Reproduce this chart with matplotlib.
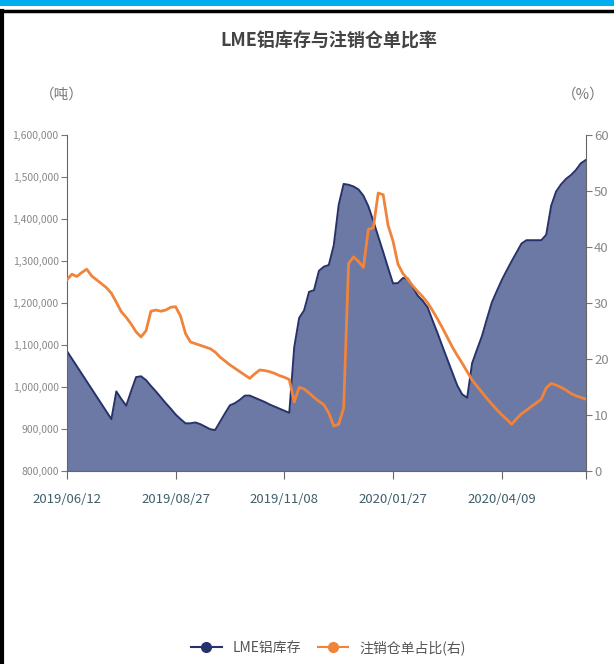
import matplotlib
matplotlib.use("Agg")
import matplotlib.pyplot as plt
from matplotlib.lines import Line2D
import numpy as np

plt.rcParams['font.family'] = ['Noto Sans CJK SC', 'DejaVu Sans']

# LME铝库存 (吨), sampled evenly along the date axis
stock = [1085, 1067, 1049, 1031, 1013, 995, 977, 959, 941, 923,
         989, 971, 955, 990, 1023, 1025, 1016, 1002, 989, 975,
         961, 948, 934, 923, 913, 913, 915, 911, 905, 899,
         897, 917, 937, 956, 961, 969, 979, 979, 974, 969,
         964, 958, 953, 948, 943, 938, 1094, 1164, 1182, 1226,
         1230, 1276, 1286, 1290, 1337, 1433, 1483, 1481, 1477, 1470,
         1455, 1430, 1395, 1358, 1321, 1283, 1246, 1247, 1259, 1258,
         1237, 1217, 1205, 1189, 1158, 1128, 1096, 1065, 1034, 1003,
         982, 974, 1056, 1089, 1121, 1162, 1201, 1228, 1254, 1277,
         1299, 1320, 1341, 1349, 1349, 1349, 1349, 1362, 1431, 1465,
         1482, 1495, 1504, 1516, 1532, 1540]
stock = [v * 1000 for v in stock]

# 注销仓单占比 (%)
ratio = [34.1, 35.1, 34.7, 35.4, 36.0, 34.8, 34.1, 33.4, 32.7, 31.7,
         30.1, 28.4, 27.4, 26.2, 24.8, 23.9, 25.0, 28.5, 28.7, 28.5,
         28.7, 29.2, 29.3, 27.6, 24.5, 23.0, 22.7, 22.4, 22.1, 21.8,
         21.2, 20.3, 19.6, 18.9, 18.3, 17.7, 17.1, 16.5, 17.3, 18.0,
         17.9, 17.7, 17.4, 17.0, 16.7, 16.3, 12.3, 14.9, 14.6, 13.9,
         13.1, 12.4, 11.8, 10.3, 8.0, 8.3, 11.2, 37.0, 38.2, 37.4,
         36.3, 43.1, 43.4, 49.6, 49.3, 43.8, 41.0, 36.9, 35.2, 34.2,
         33.0, 32.0, 31.1, 30.0, 28.6, 27.1, 25.5, 23.8, 22.1, 20.6,
         19.2, 17.7, 16.2, 15.1, 14.0, 12.9, 11.9, 10.9, 10.0, 9.2,
         8.3, 9.3, 10.2, 10.8, 11.5, 12.1, 12.8, 14.8, 15.6, 15.3,
         14.9, 14.4, 13.8, 13.4, 13.1, 12.8]

date_labels = ["2019/06/12", "2019/08/27", "2019/11/08", "2020/01/27", "2020/04/09", ""]
tick_idx = [0, 22, 44, 66, 88, 105]

x = np.arange(len(stock))

fig = plt.figure(figsize=(6.14, 6.64), dpi=100)
ax = fig.add_axes([0.109, 0.291, 0.845, 0.506])
ax2 = ax.twinx()

fill_c = "#6c79a4"
edge_c = "#27316a"
orange = "#f0843a"

ax.fill_between(x, 800000, stock, color=fill_c, lw=0, zorder=1)
ax.plot(x, stock, color=edge_c, lw=1.4, zorder=2)
ax2.plot(x, ratio, color=orange, lw=2.0, zorder=3)

ax.set_xlim(0, len(stock) - 1)
ax.set_ylim(800000, 1600000)
ax2.set_ylim(0, 60)
ax.set_yticks(np.arange(800000, 1600001, 100000))
ax.set_yticklabels([f"{v:,}" for v in range(800000, 1600001, 100000)])
ax2.set_yticks(range(0, 61, 10))
ax.set_xticks(tick_idx)
ax.set_xticklabels(date_labels)

for a in (ax, ax2):
    a.spines["top"].set_visible(False)
    a.spines["left"].set_color("#666666")
    a.spines["right"].set_color("#666666")
    a.spines["bottom"].set_color("#666666")
ax.spines["right"].set_visible(False)
ax2.spines["left"].set_visible(False)
ax2.spines["bottom"].set_visible(False)

ax.tick_params(axis="y", labelsize=7.5, colors="#777777", length=4, pad=2,
               labelcolor="#888888")
ax2.tick_params(axis="y", labelsize=9.5, colors="#777777", length=4, pad=2,
                labelcolor="#888888")
ax.tick_params(axis="x", labelsize=9.5, colors="#666666", length=6, pad=10,
               labelcolor="#3f5f6a")

fig.text(0.535, 0.938, "LME铝库存与注销仓单比率", ha="center", va="center",
         fontsize=13, color="#444444", fontweight="semibold")
fig.text(0.1, 0.858, "（吨）", ha="center", va="center", fontsize=10.5, color="#777777")
fig.text(0.95, 0.858, "（%）", ha="center", va="center", fontsize=10.5, color="#777777")

handles = [Line2D([0], [0], color=edge_c, lw=1.5, marker="o", markersize=7),
           Line2D([0], [0], color=orange, lw=1.5, marker="o", markersize=7)]
fig.legend(handles, ["LME铝库存", "注销仓单占比(右)"], loc="center",
           bbox_to_anchor=(0.535, 0.025), ncol=2, frameon=False,
           fontsize=10, labelcolor="#555555", handlelength=2.2, columnspacing=1.2)

# page decoration: cyan strip and black frame lines
fig.add_artist(plt.Rectangle((0, 1 - 6 / 664), 1, 6 / 664, transform=fig.transFigure,
                             color="#00aeef", lw=0))
fig.add_artist(Line2D([0, 1], [1 - 11 / 664, 1 - 11 / 664], transform=fig.transFigure,
                      color="black", lw=2.5))
fig.add_artist(Line2D([2 / 614, 2 / 614], [0, 1 - 11 / 664], transform=fig.transFigure,
                      color="black", lw=3))

fig.savefig("out.png", dpi=100)
